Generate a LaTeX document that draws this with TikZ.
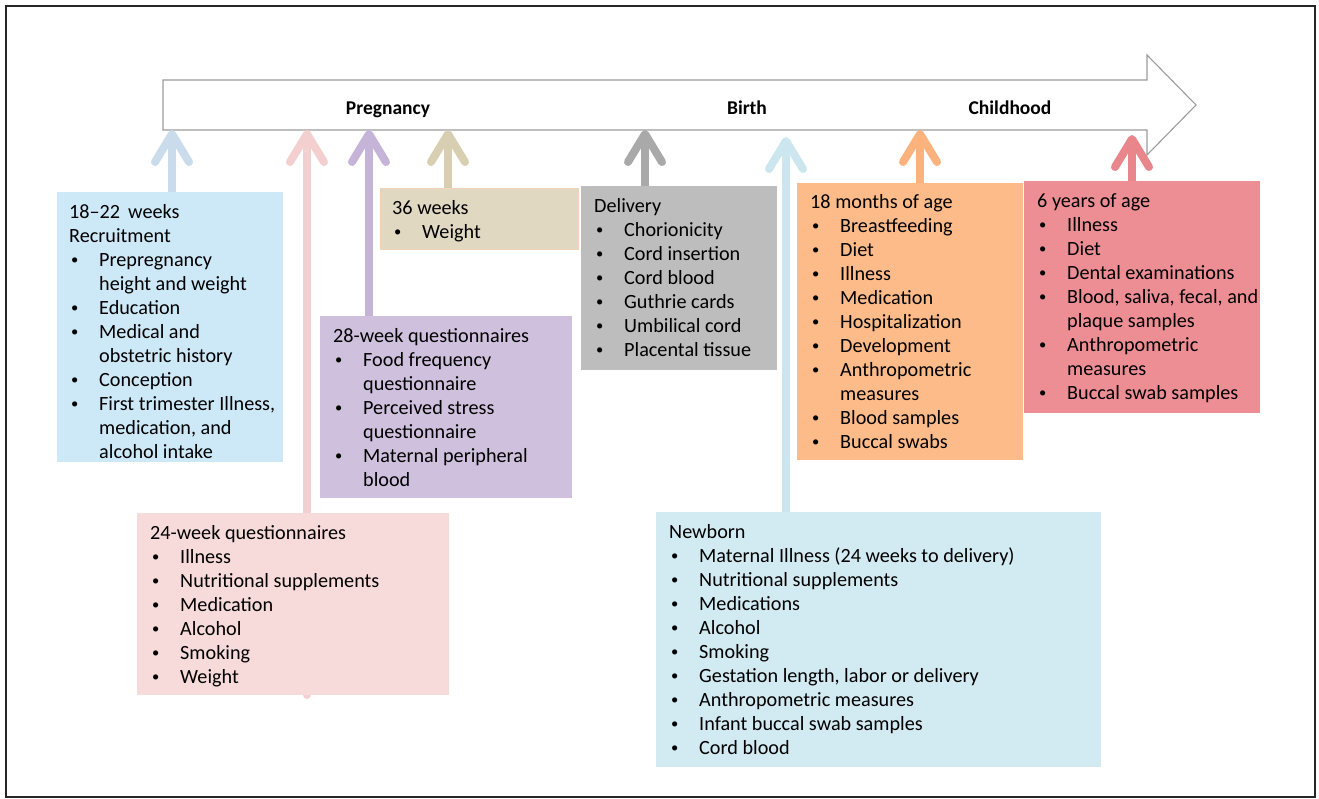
\documentclass[tikz,border=0pt]{standalone}
\usepackage{fontspec}
\setmainfont{Carlito}
\usetikzlibrary{arrows.meta,calc,backgrounds}

% panel fills
\definecolor{fillA}{HTML}{CDE9F8}
\definecolor{fillB}{HTML}{F7DADA}
\definecolor{fillC}{HTML}{CFC1DE}
\definecolor{fillD}{HTML}{E1D8C2}
\definecolor{lineD}{HTML}{F3D3B8}
\definecolor{fillE}{HTML}{BDBDBD}
\definecolor{fillF}{HTML}{FDBB8A}
\definecolor{fillG}{HTML}{EC8E93}
\definecolor{fillH}{HTML}{D2EAF1}
% pointer colours
\definecolor{ptrA}{HTML}{CADCEC}
\definecolor{ptrB}{HTML}{F4CFD0}
\definecolor{ptrC}{HTML}{C6B4D8}
\definecolor{ptrD}{HTML}{D8CEB2}
\definecolor{ptrE}{HTML}{A9A9A9}
\definecolor{ptrH}{HTML}{CCE6EF}
\definecolor{ptrF}{HTML}{FCB27C}
\definecolor{ptrG}{HTML}{E8868B}
\definecolor{tlline}{HTML}{9C9C9C}

% list helpers: bulleted item and its continuation line
\newcommand\smallbul{\raisebox{1.6pt}{\scalebox{0.72}{\textbullet}}}
\newcommand\itm[1]{\makebox[30pt][l]{\hspace{2pt}\smallbul}#1}
\newcommand\cnt[1]{\hspace*{30pt}#1}

\begin{document}
\begin{tikzpicture}[x=1pt,y=-1pt,
  font=\fontsize{20.2}{24}\selectfont,
  panel/.style={anchor=north west, inner sep=0pt, outer sep=0pt, draw=none},
  txt/.style={anchor=north west, inner sep=0pt, align=left},
  lbl/.style={anchor=base, inner sep=0pt, font=\fontsize{19.5}{24}\selectfont\bfseries},
  pointer/.style={line width=8pt, line cap=round,
    -{Straight Barb[length=28pt,width=34pt,round]}},
  timeline/.style={draw=tlline, line width=1.1pt, fill=white, line join=miter}]

\useasboundingbox (0,0) rectangle (1319,799);
\draw[line width=2pt, black!85] (6,6) rectangle (1315,797);

% ---- panels ----
\node[panel, fill=fillA, minimum width=226pt, minimum height=270pt] (A) at (57,192) {};
\node[txt] (At) at ($(A.north west)+(12,12)$) {18--22\hspace{8pt}weeks\\Recruitment\\
\itm{Prepregnancy}\\\cnt{height and weight}\\\itm{Education}\\
\itm{Medical and}\\\cnt{obstetric history}\\\itm{Conception}\\
\itm{First trimester Illness,}\\\cnt{medication, and}\\\cnt{alcohol intake}};

\node[panel, fill=fillB, minimum width=312pt, minimum height=182pt] (B) at (137,513) {};
\node[txt] (Bt) at ($(B.north west)+(13,12)$) {24-week questionnaires\\
\itm{Illness}\\\itm{Nutritional supplements}\\\itm{Medication}\\
\itm{Alcohol}\\\itm{Smoking}\\\itm{Weight}};

\node[panel, fill=fillC, minimum width=252pt, minimum height=182pt] (C) at (320,316) {};
\node[txt] (Ct) at ($(C.north west)+(13,12)$) {28-week questionnaires\\
\itm{Food frequency}\\\cnt{questionnaire}\\\itm{Perceived stress}\\
\cnt{questionnaire}\\\itm{Maternal peripheral}\\\cnt{blood}};

\node[panel, fill=fillD, draw=lineD, line width=0.8pt, minimum width=198pt, minimum height=61pt] (D) at (380,188) {};
\node[txt] (Dt) at ($(D.north west)+(12,12)$) {36 weeks\\\itm{Weight}};

\node[panel, fill=fillE, minimum width=196pt, minimum height=184pt] (E) at (581,186) {};
\node[txt] (Et) at ($(E.north west)+(13,12)$) {Delivery\\
\itm{Chorionicity}\\\itm{Cord insertion}\\\itm{Cord blood}\\
\itm{Guthrie cards}\\\itm{Umbilical cord}\\\itm{Placental tissue}};

\node[panel, fill=fillF, minimum width=226pt, minimum height=277pt] (F) at (797,183) {};
\node[txt] (Ft) at ($(F.north west)+(13,11)$) {18 months of age\\
\itm{Breastfeeding}\\\itm{Diet}\\\itm{Illness}\\\itm{Medication}\\
\itm{Hospitalization}\\\itm{Development}\\\itm{Anthropometric}\\
\cnt{measures}\\\itm{Blood samples}\\\itm{Buccal swabs}};

\node[panel, fill=fillG, minimum width=236pt, minimum height=232pt] (G) at (1024,181) {};
\node[txt] (Gt) at ($(G.north west)+(13,12)$) {6 years of age\\
\itm{Illness}\\\itm{Diet}\\\itm{Dental examinations}\\
\itm{Blood, saliva, fecal, and}\\\cnt{plaque samples}\\
\itm{Anthropometric}\\\cnt{measures}\\\itm{Buccal swab samples}};

\node[panel, fill=fillH, minimum width=445pt, minimum height=255pt] (H) at (656,512) {};
\node[txt] (Ht) at ($(H.north west)+(13,12)$) {Newborn\\
\itm{Maternal Illness (24 weeks to delivery)}\\\itm{Nutritional supplements}\\
\itm{Medications}\\\itm{Alcohol}\\\itm{Smoking}\\
\itm{Gestation length, labor or delivery}\\\itm{Anthropometric measures}\\
\itm{Infant buccal swab samples}\\\itm{Cord blood}};

% ---- timeline labels ----
\node[lbl] (preg) at (388,114.5) {Pregnancy};
\node[lbl] (birth) at (747,114.5) {Birth};
\node[lbl] (child) at (1010,114.5) {Childhood};

% ---- pointer tips on the timeline ----
\coordinate (pA) at (172,130);
\coordinate (pB) at (307,130);
\coordinate (pC) at (369,130);
\coordinate (pD) at (448,130);
\coordinate (pE) at (645,130);
\coordinate (pH) at (786,137);
\coordinate (pF) at (920,130);
\coordinate (pG) at (1132,135);

\begin{pgfonlayer}{background}
  % timeline arrow
  \draw[timeline] (163,80) -- (1147,80) -- (1147,55) -- (1196,105)
    -- (1147,155) -- (1147,130) -- (163,130) -- cycle;
  % pointers from each panel up to the timeline
  \draw[pointer, ptrA] (A.center -| pA) -- (pA);
  \draw[pointer, ptrB] (B.south -| pB) -- (pB);
  \draw[pointer, ptrC] (C.center -| pC) -- (pC);
  \draw[pointer, ptrD] (D.center -| pD) -- (pD);
  \draw[pointer, ptrE] (E.center -| pE) -- (pE);
  \draw[pointer, ptrH] (H.center -| pH) -- (pH);
  \draw[pointer, ptrF] (F.center -| pF) -- (pF);
  \draw[pointer, ptrG] (G.center -| pG) -- (pG);
\end{pgfonlayer}
\end{tikzpicture}
\end{document}
